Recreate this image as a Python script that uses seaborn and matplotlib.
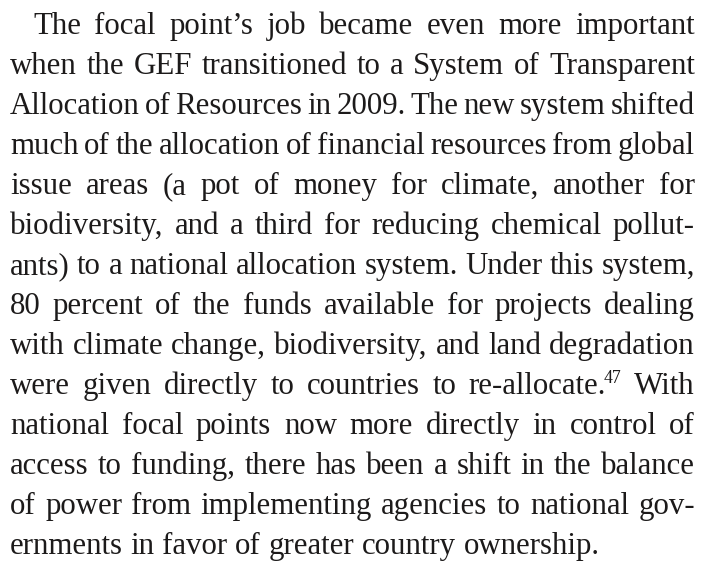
import matplotlib
matplotlib.use("Agg")
import matplotlib.pyplot as plt
import seaborn as sns

## TEXT DATA (one entry per printed line, "^" marks a note number)
lines = [
    "The focal point\u2019s job became even more important",
    "when the GEF transitioned to a System of Transparent",
    "Allocation of Resources in 2009. The new system shifted",
    "much of the allocation of financial resources from global",
    "issue areas (a pot of money for climate, another for",
    "biodiversity, and a third for reducing chemical pollut-",
    "ants) to a national allocation system. Under this system,",
    "80 percent of the funds available for projects dealing",
    "with climate change, biodiversity, and land degradation",
    "were given directly to countries to re-allocate.^47 With",
    "national focal points now more directly in control of",
    "access to funding, there has been a shift in the balance",
    "of power from implementing agencies to national gov-",
    "ernments in favor of greater country ownership.",
]

## LAYOUT
left, right = 10, 695
indent = 23
first_baseline = 34.5
line_step = 40
min_space = 0.16  # em
sup_scale = 0.58
sup_rise = 0.36  # em
sup_kern = -2
ink = "#1c1a1a"
family = ["Liberation Serif", "DejaVu Serif"]

sns.set_theme(style="white")
plt.rcParams["font.family"] = family

fig = plt.figure(figsize=(7.07, 5.63), dpi=100)
ax = fig.add_axes([0, 0, 1, 1])
ax.set_xlim(0, 707)
ax.set_ylim(563, 0)
ax.axis("off")
renderer = fig.canvas.get_renderer()

def text_width(s, size):
    t = ax.text(0, 0, s, fontsize=size)
    w = t.get_window_extent(renderer).width
    t.remove()
    return w

#### width of a word (base part + optional note number)
def word_widths(words, size):
    ws = []
    for w in words:
        base, _, note = w.partition("^")
        wd = text_width(base, size)
        if note:
            wd += text_width(note, size * sup_scale) + sup_kern
        ws.append(wd)
    return ws

s0 = 20
em0 = s0 * 100 / 72
size = 40
for i, ln in enumerate(lines[:-1]):
    words = ln.split(" ")
    target = right - left - (indent if i == 0 else 0)
    W = sum(word_widths(words, s0))
    n = len(words) - 1
    s = target / (W / s0 + n * min_space * em0 / s0)
    size = min(size, s)

#### place words, justified
em = size * 100 / 72
for i, ln in enumerate(lines):
    words = ln.split(" ")
    x0 = left + (indent if i == 0 else 0)
    ws = word_widths(words, size)
    if i < len(lines) - 1:
        gap = (right - x0 - sum(ws)) / (len(words) - 1)
    else:
        gap = 0.25 * em
    y = round(first_baseline + i * line_step)
    x = x0
    for w, wd in zip(words, ws):
        base, _, note = w.partition("^")
        ax.text(x, y, base, fontsize=size, color=ink, va="baseline", ha="left")
        if note:
            bx = x + text_width(base, size) + sup_kern
            ax.text(bx, round(y - sup_rise * em), note, fontsize=size * sup_scale,
                    color=ink, va="baseline", ha="left")
        x += wd + gap

fig.savefig("out.png", dpi=100, facecolor="white")
